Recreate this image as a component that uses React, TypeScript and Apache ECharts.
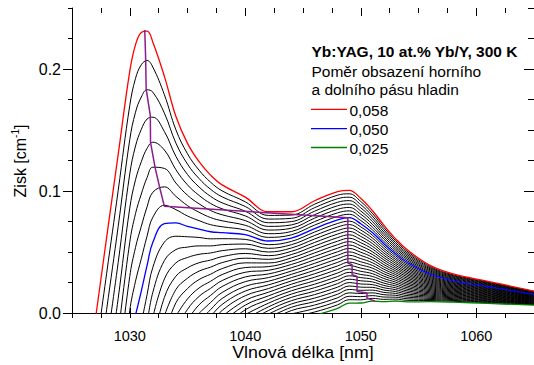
import React, { useEffect, useRef } from 'react';
import * as echarts from 'echarts';

// Wavelength grid [nm]
const wavelengths = [1027, 1028, 1029, 1030, 1030.5, 1031, 1031.5, 1032, 1033, 1034, 1035, 1036, 1037, 1038, 1040, 1042, 1044, 1046, 1048, 1049, 1050, 1051, 1052, 1053, 1054, 1056, 1058, 1061, 1065];

// Population ratio of each curve (top to bottom)
const ratios = ['0,058', '0,057', '0,056', '0,055', '0,054', '0,053', '0,052', '0,051', '0,050', '0,049', '0,048', '0,047', '0,046', '0,045', '0,044', '0,043', '0,042', '0,041', '0,040', '0,039', '0,038', '0,037', '0,036', '0,035', '0,034', '0,033', '0,032', '0,031', '0,030', '0,029', '0,028', '0,027', '0,026', '0,025'];

// Gain [cm^-1]; each row holds the values for the LAST row.length wavelengths
const gainCurves: number[][] = [
  [-0.007, 0.062, 0.130, 0.198, 0.220, 0.230, 0.231, 0.222, 0.194, 0.161, 0.139, 0.124, 0.113, 0.105, 0.095, 0.083, 0.083, 0.092, 0.0995, 0.1005, 0.094, 0.084, 0.072, 0.061, 0.052, 0.039, 0.032, 0.026, 0.018],
  [-0.036, 0.0325, 0.1005, 0.17, 0.1923, 0.2035, 0.207, 0.2015, 0.1789, 0.1501, 0.1305, 0.1171, 0.1072, 0.1001, 0.09115, 0.08, 0.0803, 0.08915, 0.0966, 0.0977, 0.0914, 0.08175, 0.0701, 0.05945, 0.0507, 0.0381, 0.0313, 0.02545, 0.01765],
  [-0.065, 0.003, 0.071, 0.142, 0.1646, 0.177, 0.183, 0.181, 0.1638, 0.1392, 0.122, 0.1102, 0.1014, 0.0952, 0.0873, 0.077, 0.0776, 0.0863, 0.0937, 0.0949, 0.0888, 0.0795, 0.0682, 0.0579, 0.0494, 0.0372, 0.0306, 0.0249, 0.0173],
  [-0.0265, 0.0415, 0.114, 0.1369, 0.1505, 0.159, 0.1605, 0.1487, 0.1283, 0.1135, 0.1033, 0.0956, 0.0903, 0.08345, 0.074, 0.0749, 0.08345, 0.0908, 0.0921, 0.0862, 0.07725, 0.0663, 0.05635, 0.0481, 0.0363, 0.0299, 0.02435, 0.01695],
  [-0.056, 0.012, 0.086, 0.1092, 0.124, 0.135, 0.14, 0.1336, 0.1174, 0.105, 0.0964, 0.0898, 0.0854, 0.0796, 0.071, 0.0722, 0.0806, 0.0879, 0.0893, 0.0836, 0.075, 0.0644, 0.0548, 0.0468, 0.0354, 0.0292, 0.0238, 0.0166],
  [-0.0175, 0.058, 0.0815, 0.0975, 0.111, 0.1195, 0.1185, 0.1065, 0.0965, 0.0895, 0.084, 0.0805, 0.07575, 0.068, 0.0695, 0.07775, 0.085, 0.0865, 0.081, 0.07275, 0.0625, 0.05325, 0.0455, 0.0345, 0.0285, 0.02325, 0.01625],
  [-0.047, 0.03, 0.0538, 0.071, 0.087, 0.099, 0.1034, 0.0956, 0.088, 0.0826, 0.0782, 0.0756, 0.0719, 0.065, 0.0668, 0.0749, 0.0821, 0.0837, 0.0784, 0.0705, 0.0606, 0.0517, 0.0442, 0.0336, 0.0278, 0.0227, 0.0159],
  [-0.0765, 0.002, 0.0261, 0.0445, 0.063, 0.0785, 0.0883, 0.0847, 0.0795, 0.0757, 0.0724, 0.0707, 0.06805, 0.062, 0.0641, 0.07205, 0.0792, 0.0809, 0.0758, 0.06825, 0.0587, 0.05015, 0.0429, 0.0327, 0.0271, 0.02215, 0.01555],
  [-0.0016, 0.018, 0.039, 0.058, 0.0732, 0.0738, 0.071, 0.0688, 0.0666, 0.0658, 0.0642, 0.059, 0.0614, 0.0692, 0.0763, 0.0781, 0.0732, 0.066, 0.0568, 0.0486, 0.0416, 0.0318, 0.0264, 0.0216, 0.0152],
  [-0.0085, 0.015, 0.0375, 0.0581, 0.0629, 0.0625, 0.0619, 0.0608, 0.0609, 0.06035, 0.056, 0.0587, 0.06635, 0.0734, 0.0753, 0.0706, 0.06375, 0.0549, 0.04705, 0.0403, 0.0309, 0.0257, 0.02105, 0.01485],
  [-0.009, 0.017, 0.043, 0.052, 0.054, 0.055, 0.055, 0.056, 0.0565, 0.053, 0.056, 0.0635, 0.0705, 0.0725, 0.068, 0.0615, 0.053, 0.0455, 0.039, 0.03, 0.025, 0.0205, 0.0145],
  [-0.0035, 0.0279, 0.0411, 0.0455, 0.0481, 0.0492, 0.0511, 0.05265, 0.05, 0.0533, 0.06065, 0.0676, 0.0697, 0.0654, 0.05925, 0.0511, 0.04395, 0.0377, 0.0291, 0.0243, 0.01995, 0.01415],
  [-0.024, 0.0128, 0.0302, 0.037, 0.0412, 0.0434, 0.0462, 0.0488, 0.047, 0.0506, 0.0578, 0.0647, 0.0669, 0.0628, 0.057, 0.0492, 0.0424, 0.0364, 0.0282, 0.0236, 0.0194, 0.0138],
  [-0.0023, 0.0193, 0.0285, 0.0343, 0.0376, 0.0413, 0.04495, 0.044, 0.0479, 0.05495, 0.0618, 0.0641, 0.0602, 0.05475, 0.0473, 0.04085, 0.0351, 0.0273, 0.0229, 0.01885, 0.01345],
  [-0.0174, 0.0084, 0.02, 0.0274, 0.0318, 0.0364, 0.0411, 0.041, 0.0452, 0.0521, 0.0589, 0.0613, 0.0576, 0.0525, 0.0454, 0.0393, 0.0338, 0.0264, 0.0222, 0.0183, 0.0131],
  [-0.0025, 0.0115, 0.0205, 0.026, 0.0315, 0.03725, 0.038, 0.0425, 0.04925, 0.056, 0.0585, 0.055, 0.05025, 0.0435, 0.03775, 0.0325, 0.0255, 0.0215, 0.01775, 0.01275],
  [-0.0134, 0.003, 0.0136, 0.0202, 0.0266, 0.0334, 0.035, 0.0398, 0.0464, 0.0531, 0.0557, 0.0524, 0.048, 0.0416, 0.0362, 0.0312, 0.0246, 0.0208, 0.0172, 0.0124],
  [-0.0055, 0.0067, 0.0144, 0.0217, 0.02955, 0.032, 0.0371, 0.04355, 0.0502, 0.0529, 0.0498, 0.04575, 0.0397, 0.03465, 0.0299, 0.0237, 0.0201, 0.01665, 0.01205],
  [-0.0002, 0.0086, 0.0168, 0.0257, 0.029, 0.0344, 0.0407, 0.0473, 0.0501, 0.0472, 0.0435, 0.0378, 0.0331, 0.0286, 0.0228, 0.0194, 0.0161, 0.0117],
  [-0.0071, 0.0028, 0.0119, 0.02185, 0.026, 0.0317, 0.03785, 0.0444, 0.0473, 0.0446, 0.04125, 0.0359, 0.03155, 0.0273, 0.0219, 0.0187, 0.01555, 0.01135],
  [-0.003, 0.007, 0.018, 0.023, 0.029, 0.035, 0.0415, 0.0445, 0.042, 0.039, 0.034, 0.03, 0.026, 0.021, 0.018, 0.015, 0.011],
  [-0.0088, 0.0021, 0.01415, 0.02, 0.0263, 0.03215, 0.0386, 0.0417, 0.0394, 0.03675, 0.0321, 0.02845, 0.0247, 0.0201, 0.0173, 0.01445, 0.01065],
  [-0.0028, 0.0103, 0.017, 0.0236, 0.0293, 0.0357, 0.0389, 0.0368, 0.0345, 0.0302, 0.0269, 0.0234, 0.0192, 0.0166, 0.0139, 0.0103],
  [-0.0077, 0.00645, 0.014, 0.0209, 0.02645, 0.0328, 0.0361, 0.0342, 0.03225, 0.0283, 0.02535, 0.0221, 0.0183, 0.0159, 0.01335, 0.00995],
  [-0.0126, 0.0026, 0.011, 0.0182, 0.0236, 0.0299, 0.0333, 0.0316, 0.03, 0.0264, 0.0238, 0.0208, 0.0174, 0.0152, 0.0128, 0.0096],
  [-0.00125, 0.008, 0.0155, 0.02075, 0.027, 0.0305, 0.029, 0.02775, 0.0245, 0.02225, 0.0195, 0.0165, 0.0145, 0.01225, 0.00925],
  [-0.0051, 0.005, 0.0128, 0.0179, 0.0241, 0.0277, 0.0264, 0.0255, 0.0226, 0.0207, 0.0182, 0.0156, 0.0138, 0.0117, 0.0089],
  [-0.00895, 0.002, 0.0101, 0.01505, 0.0212, 0.0249, 0.0238, 0.02325, 0.0207, 0.01915, 0.0169, 0.0147, 0.0131, 0.01115, 0.00855],
  [-0.001, 0.0074, 0.0122, 0.0183, 0.0221, 0.0212, 0.021, 0.0188, 0.0176, 0.0156, 0.0138, 0.0124, 0.0106, 0.0082],
  [-0.004, 0.0047, 0.00935, 0.0154, 0.0193, 0.0186, 0.01875, 0.0169, 0.01605, 0.0143, 0.0129, 0.0117, 0.01005, 0.00785],
  [-0.007, 0.002, 0.0065, 0.0125, 0.0165, 0.016, 0.0165, 0.015, 0.0145, 0.013, 0.012, 0.011, 0.0095, 0.0075],
  [-0.0007, 0.00365, 0.0096, 0.0137, 0.0134, 0.01425, 0.0131, 0.01295, 0.0117, 0.0111, 0.0103, 0.00895, 0.00715],
  [-0.0034, 0.0008, 0.0067, 0.0109, 0.0108, 0.012, 0.0112, 0.0114, 0.0104, 0.0102, 0.0096, 0.0084, 0.0068],
  [-0.00205, 0.0038, 0.0081, 0.0082, 0.00975, 0.0093, 0.00985, 0.0091, 0.0093, 0.0089, 0.00785, 0.00645],
];

// Locus of the gain maxima (purple line)
const peakWavelengths = [1031.3, 1031.38, 1031.42, 1031.78, 1031.8, 1032.2, 1032.6, 1033.0, 1048.88, 1048.88, 1049.25, 1049.25, 1049.68, 1049.68, 1050.54, 1050.54, 1051.26];
const peakGains = [0.232, 0.2076, 0.1838, 0.1617, 0.1398, 0.1189, 0.1025, 0.0874, 0.078, 0.041, 0.0396, 0.0314, 0.030, 0.0177, 0.0164, 0.0123, 0.0095];

const xMajorTicks = [1030, 1040, 1050, 1060];
const yMajorTicks = [0, 0.1, 0.2];

const FONT = 'Liberation Sans, Arial, Helvetica, sans-serif';

export default function App() {
  const ref = useRef<HTMLDivElement>(null);
  useEffect(() => {
    const chart = echarts.init(ref.current as HTMLDivElement, null, { renderer: 'svg' });
    const colorOf = (k: number) => (k === 0 ? '#ff0000' : k === 8 ? '#0000ff' : k === 33 ? '#008000' : '#000000');
    const curveSeries = gainCurves.map((row, k) => {
      const off = wavelengths.length - row.length;
      const special = k === 0 || k === 8 || k === 33;
      return {
        type: 'line',
        name: ratios[k],
        data: row.map((g, i) => [wavelengths[off + i], g]),
        smooth: 0.4,
        symbol: 'none',
        silent: true,
        clip: true,
        z: special ? 3 : 2,
        lineStyle: { color: colorOf(k), width: special ? 1.3 : 1 },
      };
    });
    const peakSeries = {
      type: 'line',
      name: 'peaks',
      data: peakWavelengths.map((x, i) => [x, peakGains[i]]),
      symbol: 'none',
      silent: true,
      z: 4,
      lineStyle: { color: '#8b1c8b', width: 1.5 },
    };
    const baseX = { type: 'value', min: 1025, max: 1065, splitLine: { show: false } };
    const baseY = { type: 'value', min: 0, max: 0.25, splitLine: { show: false } };
    const tickStyle = { color: '#000', width: 1 };
    const legendRows = [
      { k: 0, y: 109.3 },
      { k: 8, y: 128.7 },
      { k: 33, y: 147.5 },
    ];
    const option: any = {
      animation: false,
      textStyle: { fontFamily: FONT },
      grid: { left: 72, right: -2.5, top: 8, bottom: 52, containLabel: false },
      xAxis: [
        {
          ...baseX, interval: 2.5, position: 'bottom',
          axisLine: { show: true, onZero: false, lineStyle: { color: '#000', width: 1 } },
          axisTick: { show: true, inside: false, length: 5, lineStyle: tickStyle },
          axisLabel: {
            show: true, customValues: xMajorTicks, margin: 15, fontSize: 14.5, color: '#000', fontFamily: FONT,
            formatter: (v: number) => String(Math.round(v)),
          },
        },
        {
          ...baseX, position: 'bottom',
          axisLine: { show: false, onZero: false },
          axisTick: { show: true, inside: true, length: 5, customValues: xMajorTicks, lineStyle: tickStyle },
          axisLabel: { show: false },
        },
        {
          ...baseX, interval: 2.5, position: 'top',
          axisLine: { show: false, onZero: false },
          axisTick: { show: true, inside: true, length: 5, lineStyle: tickStyle },
          axisLabel: { show: false },
        },
        {
          ...baseX, position: 'top',
          axisLine: { show: false, onZero: false },
          axisTick: { show: true, inside: true, length: 8, customValues: xMajorTicks, lineStyle: tickStyle },
          axisLabel: { show: false },
        },
      ],
      yAxis: [
        {
          ...baseY, interval: 0.025, position: 'left',
          axisLine: { show: true, onZero: false, lineStyle: { color: '#000', width: 1 } },
          axisTick: { show: true, inside: false, length: 4, lineStyle: tickStyle },
          axisLabel: {
            show: true, customValues: yMajorTicks, margin: 11, fontSize: 16, color: '#000', fontFamily: FONT,
            formatter: (v: number) => v.toFixed(1),
          },
        },
        {
          ...baseY, position: 'left',
          axisLine: { show: false, onZero: false },
          axisTick: { show: true, inside: false, length: 9, customValues: yMajorTicks, lineStyle: tickStyle },
          axisLabel: { show: false },
        },
        {
          ...baseY, interval: 0.025, position: 'right',
          axisLine: { show: true, onZero: false, lineStyle: { color: '#000', width: 1 } },
          axisTick: { show: true, inside: true, length: 6, lineStyle: tickStyle },
          axisLabel: { show: false },
        },
        {
          ...baseY, position: 'right',
          axisLine: { show: false, onZero: false },
          axisTick: { show: true, inside: true, length: 10, customValues: yMajorTicks, lineStyle: tickStyle },
          axisLabel: { show: false },
        },
      ],
      series: [...curveSeries.filter((_, k) => !(k === 0 || k === 8 || k === 33)), curveSeries[33], curveSeries[8], curveSeries[0], peakSeries],
      graphic: [
        {
          type: 'text', x: 303, y: 352, scaleX: 1.08, silent: true,
          style: { text: 'Vlnová délka [nm]', fontSize: 16.5, fontFamily: FONT, fill: '#000', textAlign: 'center', textVerticalAlign: 'middle', verticalAlign: 'middle' },
        },
        {
          type: 'text', x: 19, y: 161, rotation: Math.PI / 2, silent: true,
          style: {
            text: '{a|Zisk [cm}{s|-1}{a|]}',
            textAlign: 'center', textVerticalAlign: 'middle', verticalAlign: 'middle',
            fill: '#000',
            rich: {
              a: { fontSize: 16, fontFamily: FONT, fill: '#000', lineHeight: 18, verticalAlign: 'bottom' },
              s: { fontSize: 10, fontFamily: FONT, fill: '#000', lineHeight: 10, verticalAlign: 'top' },
            },
          },
        },
        {
          type: 'text', x: 311.5, y: 51.5, silent: true,
          style: { text: 'Yb:YAG, 10 at.% Yb/Y, 300 K', fontSize: 15.5, fontWeight: 'bold', fontFamily: FONT, fill: '#000', textAlign: 'left', textVerticalAlign: 'middle', verticalAlign: 'middle' },
        },
        {
          type: 'text', x: 311.5, y: 71.3, silent: true,
          style: { text: 'Poměr obsazení horního', fontSize: 15.5, fontFamily: FONT, fill: '#000', textAlign: 'left', textVerticalAlign: 'middle', verticalAlign: 'middle' },
        },
        {
          type: 'text', x: 311.5, y: 89.8, silent: true,
          style: { text: 'a dolního pásu hladin', fontSize: 15.5, fontFamily: FONT, fill: '#000', textAlign: 'left', textVerticalAlign: 'middle', verticalAlign: 'middle' },
        },
        ...legendRows.flatMap((r) => [
          {
            type: 'line', silent: true,
            shape: { x1: 311, y1: r.y, x2: 347, y2: r.y },
            style: { stroke: colorOf(r.k), lineWidth: 1.3 },
          },
          {
            type: 'text', x: 349.5, y: r.y + 1, silent: true,
            style: { text: ratios[r.k], fontSize: 15.5, fontFamily: FONT, fill: '#000', textAlign: 'left', textVerticalAlign: 'middle', verticalAlign: 'middle' },
          },
        ]),
      ],
    };
    chart.setOption(option);
    return () => chart.dispose();
  }, []);
  return <div ref={ref} style={{ position: 'fixed', left: 0, top: 0, width: 534, height: 365, background: '#ffffff' }} />;
}
